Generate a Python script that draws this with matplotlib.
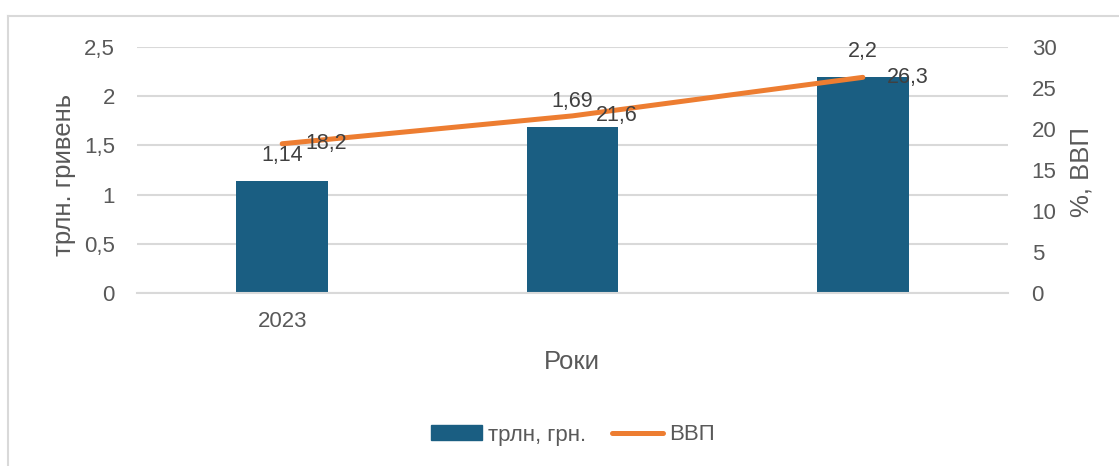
import matplotlib
matplotlib.use('Agg')
import matplotlib.pyplot as plt
from matplotlib.lines import Line2D
from matplotlib.patches import Patch
from matplotlib.ticker import FuncFormatter

# data
years = ['2023', '', '']
trln_grn = [1.14, 1.69, 2.2]
vvp_pct = [18.2, 21.6, 26.3]

BAR_COLOR = '#1A5E82'
LINE_COLOR = '#ED7D31'
TEXT_COLOR = '#595959'
LABEL_COLOR = '#404040'
GRID_COLOR = '#D9D9D9'

plt.rcParams['font.family'] = ['Liberation Sans', 'DejaVu Sans']

W, H = 1119, 466
fig = plt.figure(figsize=(W / 100, H / 100), dpi=100)
fig.patch.set_facecolor('white')


def px(x, y):
    return x / W, 1 - y / H


def comma(v, pos=None):
    return f'{v:g}'.replace('.', ',')


# chart frame (only top and left edges are visible in the crop)
fig.add_artist(Line2D([8 / W, 1], [1 - 16 / H] * 2, transform=fig.transFigure,
                      color=GRID_COLOR, lw=1.5))
fig.add_artist(Line2D([8 / W] * 2, [0, 1 - 16 / H], transform=fig.transFigure,
                      color=GRID_COLOR, lw=1.5))

left, right = 137 / W, 1008 / W
bottom, top = 1 - 293 / H, 1 - 47 / H
ax = fig.add_axes([left, bottom, right - left, top - bottom])
ax2 = ax.twinx()

x = list(range(len(years)))
ax.bar(x, trln_grn, width=0.315, color=BAR_COLOR, zorder=2)
ax2.plot(x, vvp_pct, color=LINE_COLOR, lw=3.6, solid_capstyle='round', zorder=3)

ax.set_xlim(-0.5, len(years) - 0.5)
ax.set_ylim(0, 2.5)
ax2.set_ylim(0, 30)
ax.set_yticks([0, 0.5, 1, 1.5, 2, 2.5])
ax2.set_yticks([0, 5, 10, 15, 20, 25, 30])
ax.yaxis.set_major_formatter(FuncFormatter(comma))
ax.set_xticks(x)
ax.set_xticklabels(years)

ax.set_axisbelow(True)
ax.grid(axis='y', color=GRID_COLOR, lw=1.5, zorder=0)
for a in (ax, ax2):
    for s in a.spines.values():
        s.set_visible(False)
ax.spines['bottom'].set_visible(True)
ax.spines['bottom'].set_color(GRID_COLOR)
ax.spines['bottom'].set_linewidth(1.5)

ax.tick_params(axis='y', length=0, pad=16, labelsize=16, labelcolor=TEXT_COLOR)
ax.tick_params(axis='x', length=0, pad=13, labelsize=16, labelcolor=TEXT_COLOR)
ax2.tick_params(axis='y', length=0, pad=17, labelsize=16, labelcolor=TEXT_COLOR)

# data labels
for xi, v in zip(x, trln_grn):
    ax.annotate(comma(v), (xi, v), xytext=(0, 14), textcoords='offset points',
                ha='center', va='baseline', fontsize=15.5, color=LABEL_COLOR)
for xi, v in zip(x, vvp_pct):
    ax2.annotate(comma(v), (xi, v), xytext=(17, 0), textcoords='offset points',
                 ha='left', va='center', fontsize=15.5, color=LABEL_COLOR)

# axis titles
fig.text(*px(64, 175), 'трлн. гривень', rotation=90, ha='center', va='center',
         fontsize=18.5, color=TEXT_COLOR)
fig.text(*px(1082, 172), '%, ВВП', rotation=90, ha='center', va='center',
         fontsize=18.5, color=TEXT_COLOR)
fig.text(*px(572, 362), 'Роки', ha='center', va='center',
         fontsize=18.5, color=TEXT_COLOR)

handles = [Patch(color=BAR_COLOR, label='трлн, грн.'),
           Line2D([], [], color=LINE_COLOR, lw=3.6, solid_capstyle='round', label='ВВП')]
fig.legend(handles=handles, loc='center', bbox_to_anchor=px(573, 435), ncol=2,
           frameon=False, fontsize=16, labelcolor=TEXT_COLOR, handlelength=2.3,
           handleheight=0.63, handletextpad=0.27, columnspacing=1.17,
           borderpad=0)

fig.savefig('out.png', dpi=100)
